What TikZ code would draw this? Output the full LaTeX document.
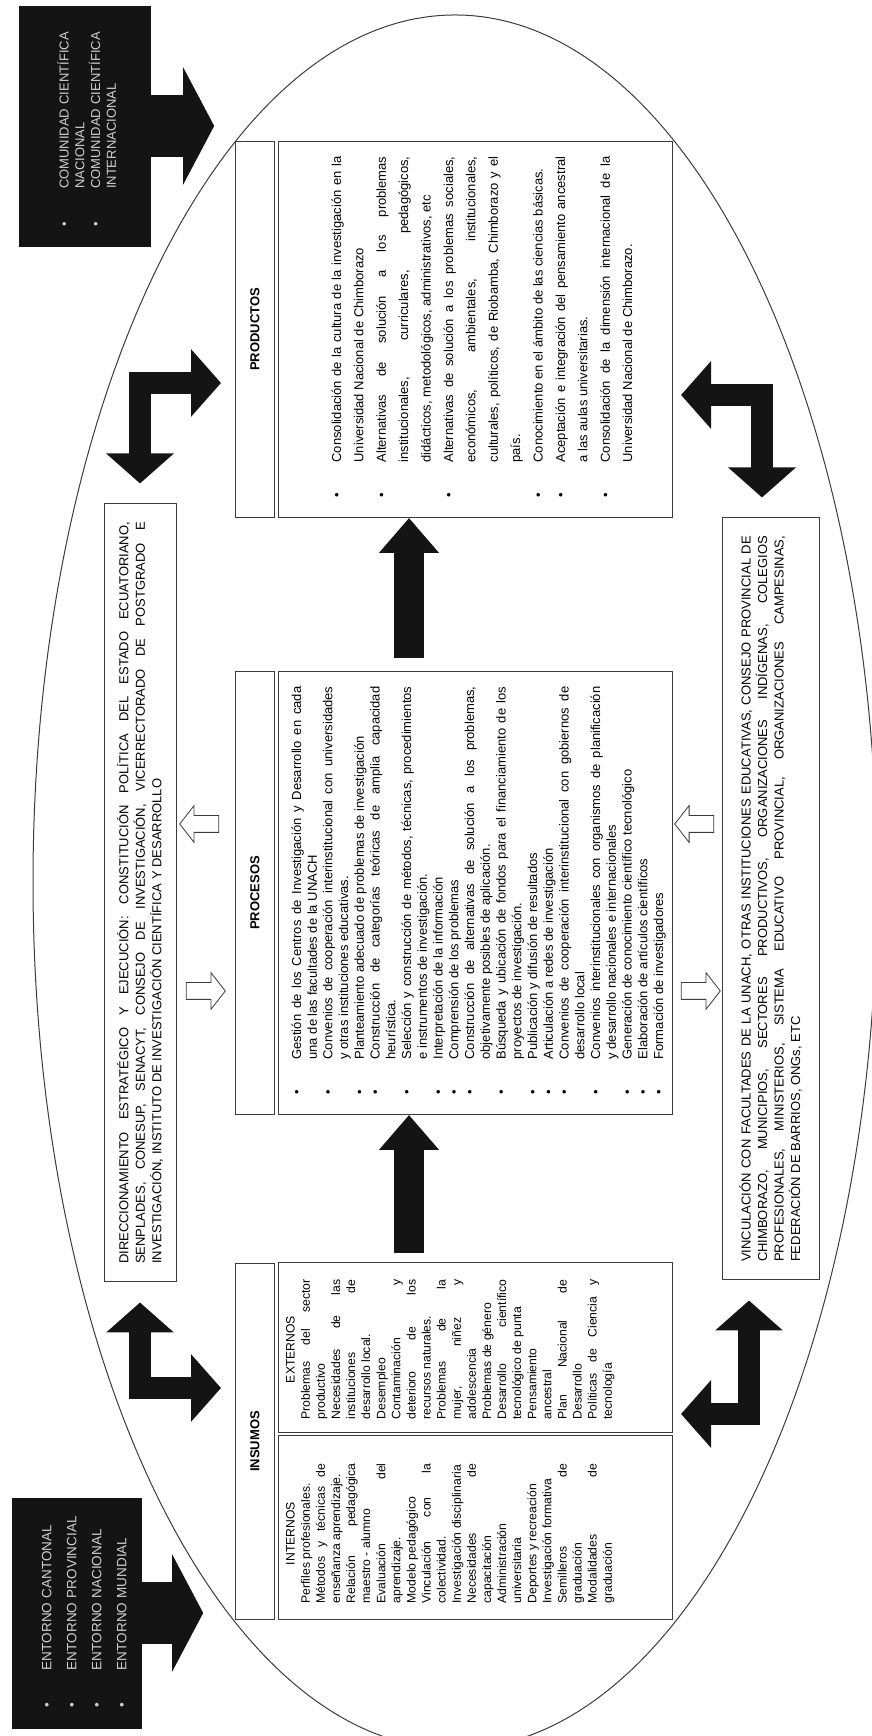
\documentclass[tikz,border=0pt]{standalone}
\usepackage{fontspec}
\setmainfont{Liberation Sans}
\usetikzlibrary{positioning,calc,arrows.meta,shapes.arrows}

\definecolor{tinta}{HTML}{141414}
\definecolor{marco}{HTML}{3C3C3C}
\definecolor{claro}{HTML}{CFCFCF}

\setlength{\parindent}{0pt}
\hyphenpenalty=10000
\exhyphenpenalty=10000
\tolerance=9999
\hbadness=10000
\vbadness=10000

% vineta colgada en el margen izquierdo
\newcommand{\vineta}[1][30pt]{\par\noindent\llap{\textbullet\hskip#1}}

\tikzset{
  caja/.style={draw=marco, line width=1pt, inner sep=0pt},
  titulo/.style={caja, minimum height=39pt, font=\fontsize{13}{15}\selectfont\bfseries},
  lista/.style={caja, inner xsep=15pt, align=justify, minimum height=394pt},
  barra/.style={caja, inner xsep=18pt, align=justify, font=\fontsize{13}{16.5}\selectfont},
  columna/.style={inner sep=0pt, text width=140pt, align=justify, anchor=north,
    font=\fontsize{12.2}{15.1}\selectfont},
  negro/.style={draw=tinta, fill=tinta, text=claro, inner sep=0pt, align=left},
  flecha/.style={draw=tinta, line width=30pt, -{Triangle[length=35pt, width=58pt]}},
  gorda/.style={draw=tinta, line width=62pt, -{Triangle[length=31pt, width=116pt]}},
  doble/.style={draw=tinta, line width=22pt, line join=miter,
    {Triangle[length=30pt, width=66pt]}-{Triangle[length=30pt, width=66pt]}},
  hueca/.style={single arrow, draw=marco, line width=0.8pt, fill=white,
    minimum height=39pt, inner sep=8pt,
    single arrow head extend=10pt, single arrow tip angle=104},
}

\begin{document}
\begin{tikzpicture}[x=1pt, y=1pt]
\useasboundingbox (0,0) rectangle (871,1736);
\begin{scope}[shift={(871,0)}, rotate=90, transform shape]
  % contorno general
  \draw[marco, line width=1pt] (854,416) ellipse [x radius=867pt, y radius=422pt];

  % insumos
  \node[caja, minimum width=170pt, minimum height=394pt, anchor=south west] (insext) at (303,198) {};
  \node[caja, minimum width=184pt, minimum height=394pt, left=2pt of insext] (insint) {};
  \node[titulo, minimum width=356pt, anchor=south west] (instit) at ($(insint.north west)+(0,3)$) {INSUMOS};
  \node[columna] (txtext) at ($(insext.north)+(-2,-8)$) {{\centering EXTERNOS\par}
    Problemas del sector\linebreak productivo\par
    Necesidades de las\linebreak instituciones de\linebreak desarrollo local.\par
    Desempleo\par
    Contaminación y\linebreak deterioro de los\linebreak recursos naturales.\par
    Problemas de la\linebreak mujer, niñez y\linebreak adolescencia\par
    Problemas de género\par
    Desarrollo científico\linebreak tecnológico de punta\par
    Pensamiento\linebreak ancestral\par
    Plan Nacional de\linebreak Desarrollo\par
    Políticas de Ciencia y\linebreak tecnología\par};
  \node[columna] (txtint) at ($(insint.north)+(-6,-8)$) {{\centering INTERNOS\par}
    Perfiles profesionales.\par
    Métodos y técnicas de\linebreak enseñanza aprendizaje.\par
    Relación pedagógica\linebreak maestro - alumno\par
    Evaluación del\linebreak aprendizaje.\par
    Modelo pedagógico\par
    Vinculación con la\linebreak colectividad.\par
    Investigación disciplinaria\par
    Necesidades de\linebreak capacitación\par
    Administración\linebreak universitaria\par
    Deportes y recreación\par
    Investigación formativa\par
    Semilleros de\linebreak graduación\par
    Modalidades de\linebreak graduación\par};

  % procesos
  \node[lista, text width=413pt, anchor=south west, font=\fontsize{13}{15.74}\selectfont] (procont) at (621,198) {\leftskip=40pt
    \vineta Gestión de los Centros de Investigación y Desarrollo en cada\linebreak una de las facultades de la UNACH
    \vineta Convenios de cooperación interinstitucional con universidades\linebreak y otras instituciones educativas.
    \vineta Planteamiento adecuado de problemas de investigación
    \vineta Construcción de categorías teóricas de amplia capacidad\linebreak heurística.
    \vineta Selección y construcción de métodos, técnicas, procedimientos\linebreak e instrumentos de investigación.
    \vineta Interpretación de la información
    \vineta Comprensión de los problemas
    \vineta Construcción de alternativas de solución a los problemas,\linebreak objetivamente posibles de aplicación.
    \vineta Búsqueda y ubicación de fondos para el financiamiento de los\linebreak proyectos de investigación.
    \vineta Publicación y difusión de resultados
    \vineta Articulación a redes de investigación
    \vineta Convenios de cooperación interinstitucional con gobiernos de\linebreak desarrollo local
    \vineta Convenios interinstitucionales con organismos de planificación\linebreak y desarrollo nacionales e internacionales
    \vineta Generación de conocimiento científico tecnológico
    \vineta Elaboración de artículos científicos
    \vineta Formación de investigadores\par};
  \node[titulo, minimum width=443pt, above=3pt of procont] (protit) {PROCESOS};

  % productos
  \node[lista, text width=346pt, anchor=south west, font=\fontsize{13}{22.4}\selectfont] (prodcont) at (1218,198) {\leftskip=40pt
    \vineta Consolidación de la cultura de la investigación en la\linebreak Universidad Nacional de Chimborazo
    \vineta Alternativas de solución a los problemas\linebreak institucionales, curriculares, pedagógicos,\linebreak didácticos, metodológicos, administrativos, etc
    \vineta Alternativas de solución a los problemas sociales,\linebreak económicos, ambientales, institucionales,\linebreak culturales, políticos, de Riobamba, Chimborazo y el\linebreak país.
    \vineta Conocimiento en el ámbito de las ciencias básicas.
    \vineta Aceptación e integración del pensamiento ancestral\linebreak a las aulas universitarias.
    \vineta Consolidación de la dimensión internacional de la\linebreak Universidad Nacional de Chimborazo.\par};
  \node[titulo, minimum width=376pt, above=3pt of prodcont] (prodtit) {PRODUCTOS};

  % barras de arriba y de abajo
  \node[barra, text width=742pt, minimum height=72pt] (direc) at (843,731) {DIRECCIONAMIENTO ESTRATÉGICO Y EJECUCIÓN: CONSTITUCIÓN POLÍTICA DEL ESTADO ECUATORIANO,\linebreak SENPLADES, CONESUP, SENACYT, CONSEJO DE INVESTIGACIÓN, VICERRECTORADO DE POSTGRADO E\linebreak INVESTIGACIÓN, INSTITUTO DE INVESTIGACIÓN CIENTÍFICA Y DESARROLLO};
  \node[barra, text width=726pt, minimum height=97pt] (vinc) at (837,100.5) {VINCULACIÓN CON FACULTADES DE LA UNACH, OTRAS INSTITUCIONES EDUCATIVAS, CONSEJO PROVINCIAL DE\linebreak CHIMBORAZO, MUNICIPIOS, SECTORES PRODUCTIVOS, ORGANIZACIONES INDÍGENAS, COLEGIOS\linebreak PROFESIONALES, MINISTERIOS, SISTEMA EDUCATIVO PROVINCIAL, ORGANIZACIONES CAMPESINAS,\linebreak FEDERACIÓN DE BARRIOS, ONGs, ETC};

  % entorno y comunidad
  \node[negro, text width=202pt, inner xsep=14pt, minimum height=129pt, font=\fontsize{13.5}{25}\selectfont] (entorno) at (123,794.5) {\leftskip=44pt
    \vineta[33pt]ENTORNO CANTONAL
    \vineta[33pt]ENTORNO PROVINCIAL
    \vineta[33pt]ENTORNO NACIONAL
    \vineta[33pt]ENTORNO MUNDIAL\par};
  \node[negro, text width=216pt, inner xsep=12pt, minimum height=131pt, font=\fontsize{13}{15.7}\selectfont] (comunidad) at (1610,786.5) {\leftskip=45pt
    \vineta[33pt]COMUNIDAD CIENTÍFICA NACIONAL
    \vineta[33pt]COMUNIDAD CIENTÍFICA INTERNACIONAL\par};

  % flechas negras
  \coordinate (ejeA) at (0,462);
  \draw[flecha] ($(insext.east |- ejeA)+(9,0)$) -- (procont.west |- ejeA);
  \draw[flecha] ($(procont.east |- ejeA)+(13,0)$) -- (prodcont.west |- ejeA);
  \draw[gorda] (entorno.south) -- ($(entorno.south)+(0,-62)$);
  \draw[gorda] (comunidad.south) -- ($(comunidad.south)+(0,-64)$);

  \coordinate (esqA) at (348,731);
  \coordinate (esqB) at (1353,731);
  \coordinate (esqC) at (1341,109);
  \coordinate (esqD) at (322,122);
  \draw[doble] ($(direc.west)+(-20,0)$) -- (esqA) -- ($(esqA |- instit.north)+(0,14)$);
  \draw[doble] ($(direc.east)+(20,0)$) -- (esqB) -- ($(esqB |- prodtit.north)+(0,14)$);
  \draw[doble] ($(esqC |- prodcont.south)+(0,-8)$) -- (esqC) -- ($(vinc.east |- esqC)+(20,0)$);
  \draw[doble] ($(esqD |- insext.south)+(0,-8)$) -- (esqD) -- ($(vinc.west |- esqD)+(-20,0)$);

  % flechas huecas
  \node[hueca, shape border rotate=90] (subeA) at (912,668.5) {};
  \node[hueca, shape border rotate=270] (bajaA) at (745,668.5) {};
  \node[hueca, shape border rotate=90] (subeB) at (912,173.5) {};
  \node[hueca, shape border rotate=270] (bajaB) at (745,173.5) {};
\end{scope}
\end{tikzpicture}
\end{document}
